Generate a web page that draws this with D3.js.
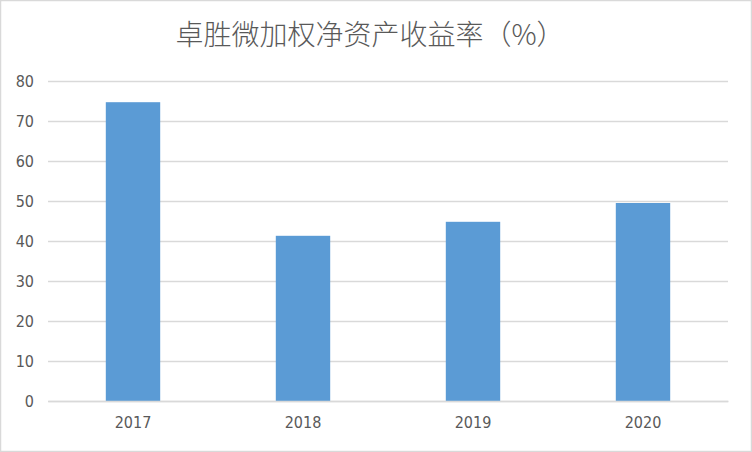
<!DOCTYPE html>
<html><head><meta charset="utf-8">
<script src="https://cdn.jsdelivr.net/npm/d3@7"></script>
<style>html,body{margin:0;padding:0;background:#fff;overflow:hidden}</style>
</head><body>
<svg id="c" width="752" height="452"></svg>
<script>
const title = "卓胜微加权净资产收益率（%）";
const categories = ["2017", "2018", "2019", "2020"];
const values = [74.7, 41.3, 44.8, 49.5];
const yTicks = [0, 10, 20, 30, 40, 50, 60, 70, 80];

const svg = d3.select("#c");
const W = 752, H = 452;
const m = {left: 48, right: 24, top: 81, bottom: 51};

svg.append("rect").attr("x", 0.5).attr("y", 0.5).attr("width", W - 1).attr("height", H - 1)
  .attr("fill", "#fff").attr("stroke", "#d9d9d9").attr("stroke-width", 1.5);

const x = d3.scaleBand().domain(categories).range([m.left, W - m.right]).paddingInner(0.68).paddingOuter(0.34);
const y = d3.scaleLinear().domain([0, 80]).range([H - m.bottom, m.top]);

const numFont = "'Liberation Sans Narrow','DejaVu Sans Condensed',Arial,sans-serif";

// gridlines
const yAxis = d3.axisLeft(y).tickValues(yTicks).tickSize(-(W - m.left - m.right)).tickPadding(14).tickFormat(d3.format("d"));
const gy = svg.append("g").attr("transform", `translate(${m.left},0)`).call(yAxis);
gy.select(".domain").remove();
gy.selectAll(".tick line").attr("stroke", "#d9d9d9").attr("stroke-width", 1.5);
gy.selectAll(".tick text").attr("fill", "#595959").attr("font-size", 16).attr("font-family", numFont);

// bars
svg.append("g").selectAll("rect").data(values).join("rect")
  .attr("x", (d, i) => x(categories[i]))
  .attr("width", x.bandwidth())
  .attr("y", d => y(d))
  .attr("height", d => y(0) - y(d))
  .attr("fill", "#5b9bd5");

// x axis
const xAxis = d3.axisBottom(x).tickSize(0).tickPadding(16);
const gx = svg.append("g").attr("transform", `translate(0,${y(0)})`).call(xAxis);
gx.select(".domain").attr("stroke", "#d9d9d9").attr("stroke-width", 1.5);
gx.selectAll(".tick text").attr("fill", "#595959").attr("font-size", 16).attr("font-family", numFont);

// title
svg.append("text").attr("x", 370).attr("y", 45).attr("text-anchor", "middle")
  .attr("font-family", "'Noto Sans CJK SC',sans-serif").attr("font-weight", 300)
  .attr("font-size", 28).attr("fill", "#595959").text(title);
</script>
</body></html>
